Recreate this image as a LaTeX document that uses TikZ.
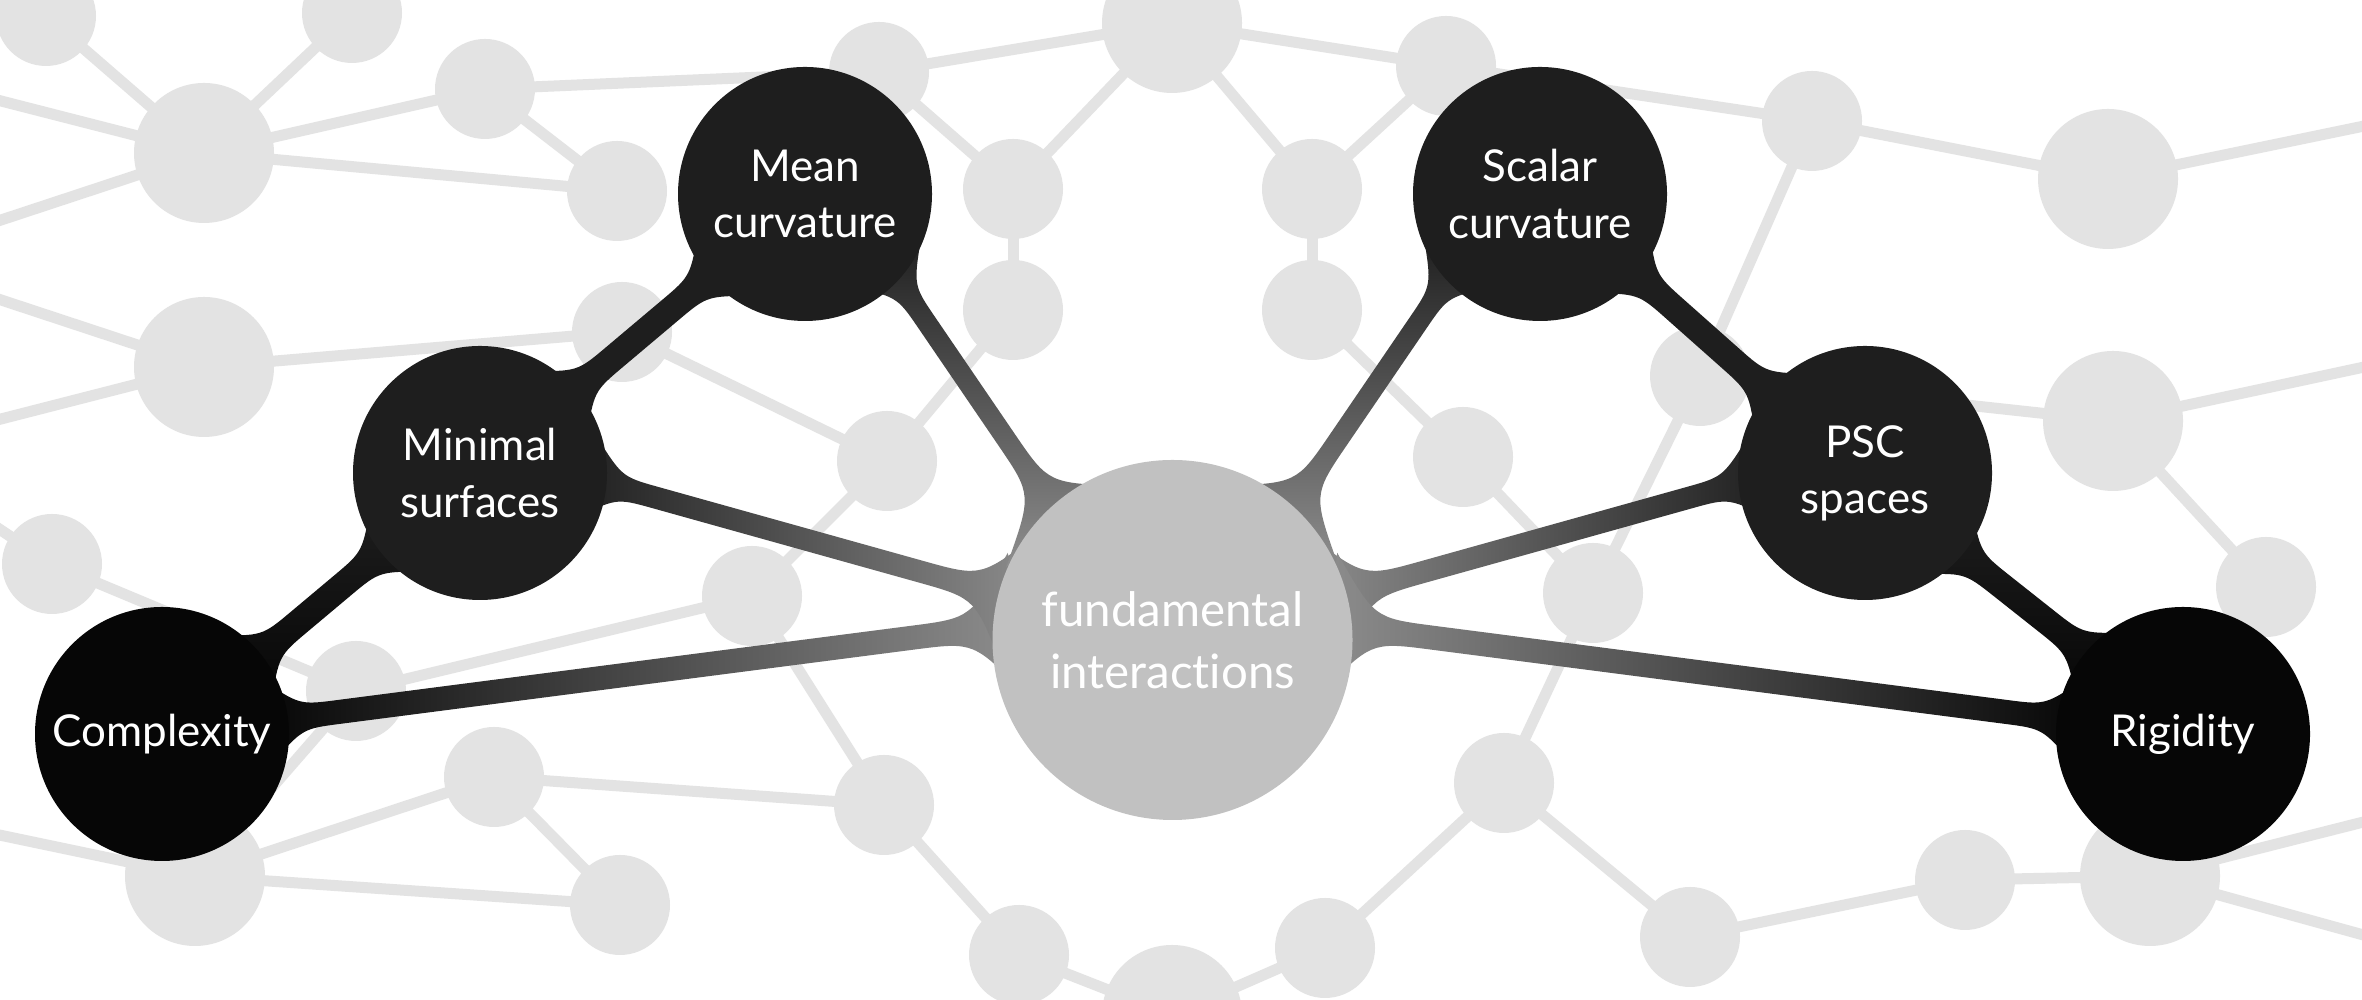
\documentclass[tikz,border=0pt]{standalone}
\usepackage{fontspec}
\setmainfont{Lato}[Ligatures=NoCommon]
\usepackage{tikz}
\usetikzlibrary{calc,backgrounds}

\definecolor{topicfill}{HTML}{1E1E1E}
\definecolor{edgefill}{HTML}{060606}
\definecolor{corefill}{HTML}{C1C1C1}
\definecolor{spokegrey}{HTML}{8E8E8E}
\definecolor{meshgrey}{HTML}{E3E3E3}

\newcommand\bond[5]{%
  \path[#5]
    ($(#1)!-0.25cm!(#2)!0.45cm!90:(#2)$)
      .. controls ($(#1)!0.12cm!(#2)!#3!90:(#2)$) .. ($(#1)!0.5cm!(#2)!#3!90:(#2)$)
    -- ($(#2)!#4!(#1)!#3!-90:(#1)$)
      .. controls ($(#2)!0.25*#4!(#1)!#3!-90:(#1)$) .. ($(#2)!-0.25cm!(#1)!0.9*#4!-90:(#1)$)
    -- ($(#2)!-0.25cm!(#1)!0.9*#4!90:(#1)$)
      .. controls ($(#2)!0.25*#4!(#1)!#3!90:(#1)$) .. ($(#2)!#4!(#1)!#3!90:(#1)$)
    -- ($(#1)!0.5cm!(#2)!#3!-90:(#2)$)
      .. controls ($(#1)!0.12cm!(#2)!#3!-90:(#2)$) .. ($(#1)!-0.25cm!(#2)!0.45cm!-90:(#2)$)
    -- cycle;}

\begin{document}
\begin{tikzpicture}[
  topic/.style={circle, fill=topicfill, text=white, minimum size=2.54cm, inner sep=0pt,
    align=center, font=\fontsize{12.5}{16}\selectfont},
  outer/.style={topic, fill=edgefill},
  core/.style={circle, fill=corefill, text=white, minimum size=3.6cm, inner sep=0pt,
    align=center, font=\fontsize{13.5}{17.5}\selectfont},
  mesh/.style={draw=meshgrey, line width=0.11cm}]
  \useasboundingbox (0,0) rectangle (23.62,10);
  \begin{scope}[on background layer]
    \fill[white] (0,0) rectangle (23.62,10);
    \clip (0,0) rectangle (23.62,10);
    \foreach \n/\x/\y in {1/2.04/8.47, 2/2.04/6.33, 3/1.95/1.24, 4/11.72/9.77, 5/21.08/8.21,
      6/21.13/5.79, 7/21.5/1.24, 8/11.72/-0.15, 9/4.85/9.11, 10/6.17/8.09, 11/6.22/6.68,
      12/0.46/9.84, 13/3.52/9.87, 14/0.52/4.36, 15/3.56/3.09, 16/7.52/4.04, 17/4.94/2.23,
      18/8.84/1.95, 19/6.20/0.95, 20/8.79/9.28, 21/14.46/9.34, 22/10.13/8.11, 23/13.12/8.11,
      24/10.13/6.90, 25/13.12/6.90, 26/8.87/5.39, 27/14.63/5.43, 28/15.04/2.17, 29/10.19/0.45,
      30/13.25/0.52, 31/18.12/8.79, 32/17.00/6.24, 33/22.66/4.13, 34/15.93/4.07, 35/19.65/1.20,
      36/16.90/0.63, 37/-1.2/9.3, 38/-1.2/7.4, 39/-1.2/5.5, 40/-1.2/1.9, 41/24.9/9.0,
      42/24.9/6.6, 43/24.9/2.1, 44/24.9/0.3}
      \coordinate (g\n) at (\x,\y);
    \foreach \a/\b in {1/9, 1/10, 1/12, 1/13, 1/37, 1/38, 9/10, 9/20,
      2/11, 2/38, 2/39, 11/26, 14/39, 14/15, 3/40, 3/15, 3/17, 3/19,
      15/16, 16/18, 16/26, 17/19, 17/18, 18/29, 20/22, 20/4, 4/21, 4/22,
      4/23, 21/23, 24/26, 25/27, 22/24, 23/25, 27/34, 29/8, 30/8, 30/28, 28/34, 28/36,
      34/32, 32/31, 32/6, 31/21, 31/5, 5/41, 6/42, 6/33, 33/7, 7/43, 7/44,
      7/35, 35/36}
      \draw[mesh] (g\a) -- (g\b);
    \foreach \n in {1,...,8}
      \fill[meshgrey] (g\n) circle (0.7);
    \foreach \n in {9,...,36}
      \fill[meshgrey] (g\n) circle (0.5);
  \end{scope}

  \node[core] (fund) at (11.725,3.60) {fundamental\\interactions};
  \node[outer] (cplx) at (1.62,2.66) {Complexity};
  \node[topic] (mini) at (4.80,5.27) {Minimal\\surfaces};
  \node[topic] (mean) at (8.05,8.06) {Mean\\curvature};
  \node[topic] (scal) at (15.40,8.06) {Scalar\\curvature};
  \node[topic] (psc) at (18.65,5.27) {PSC\\spaces};
  \node[outer] (rigid) at (21.83,2.66) {Rigidity};

  \begin{scope}[on background layer]
    \bond{cplx.39}{mini.-141}{0.13cm}{0.5cm}{bottom color=edgefill, top color=topicfill}
    \bond{mini.41}{mean.-139}{0.13cm}{0.5cm}{fill=topicfill}
    \bond{scal.-40}{psc.140}{0.13cm}{0.5cm}{fill=topicfill}
    \bond{psc.-40}{rigid.140}{0.13cm}{0.5cm}{top color=topicfill, bottom color=edgefill}
    \bond{cplx.7}{fund.176}{0.12cm}{0.8cm}{left color=edgefill, right color=spokegrey}
    \bond{mini.-5}{fund.165}{0.11cm}{0.8cm}{left color=topicfill, right color=spokegrey}
    \bond{mean.-43}{fund.132}{0.10cm}{0.8cm}{top color=topicfill, bottom color=spokegrey}
    \bond{scal.-137}{fund.48}{0.10cm}{0.8cm}{top color=topicfill, bottom color=spokegrey}
    \bond{psc.185}{fund.15}{0.11cm}{0.8cm}{left color=spokegrey, right color=topicfill}
    \bond{rigid.173}{fund.4}{0.12cm}{0.8cm}{left color=spokegrey, right color=edgefill}
  \end{scope}
\end{tikzpicture}
\end{document}
